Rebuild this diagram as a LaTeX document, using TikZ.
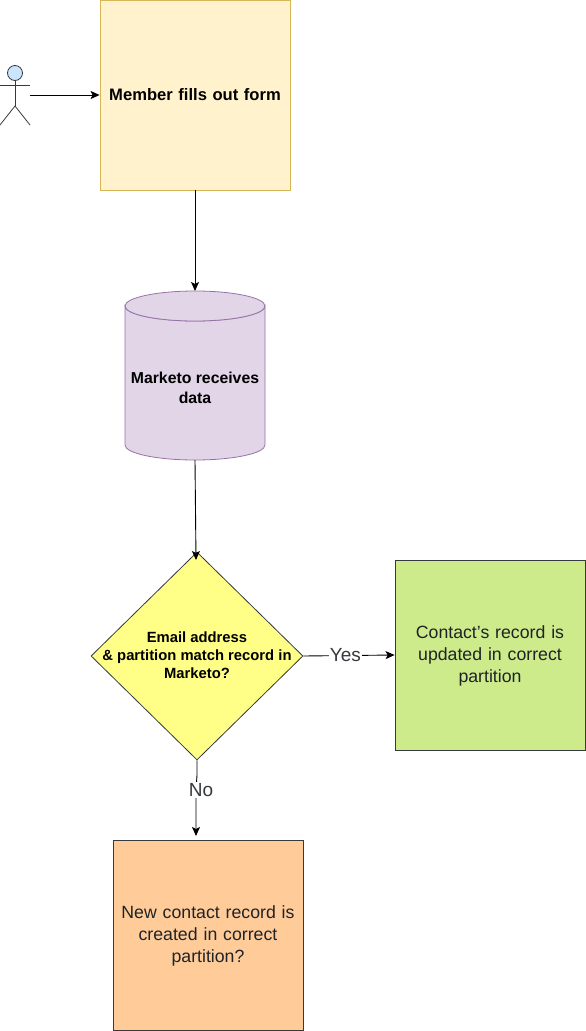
\documentclass[tikz,border=0pt]{standalone}
\usepackage{fontspec}
\setmainfont{Liberation Sans}
\usetikzlibrary{shapes.geometric,arrows.meta}
\definecolor{flowink}{HTML}{36393D}
\definecolor{bodytext}{HTML}{1F2226}
\definecolor{formfill}{HTML}{FFF2CC}
\definecolor{formline}{HTML}{D6B656}
\definecolor{cylfill}{HTML}{E1D5E7}
\definecolor{cylline}{HTML}{9673A6}
\definecolor{diafill}{HTML}{FFFF88}
\definecolor{greenfill}{HTML}{CDEB8B}
\definecolor{orangefill}{HTML}{FFCC99}
\definecolor{headfill}{HTML}{CCE5FF}
\tikzset{
  x=1pt,y=-1pt,
  box/.style={draw=flowink,rectangle,minimum width=190pt,minimum height=190pt,inner sep=0pt,align=center,text width=180pt,line width=.8pt,text=bodytext,font=\fontsize{17.7}{22}\selectfont},
  flow/.style={draw=black,line width=.9pt,-{Stealth[length=9pt,width=8pt,inset=2pt]}},
  edgelabel/.style={fill=white,inner sep=1pt,text=flowink,font=\fontsize{19}{20}\selectfont},
  actorline/.style={draw=flowink,line width=.8pt},
  boldtext/.style n args={2}{align=center,inner sep=0pt,text=black,font=\bfseries\fontsize{#1}{#2}\selectfont}
}
\begin{document}
\begin{tikzpicture}
\useasboundingbox (0,0) rectangle (586,1031);
% actor
\coordinate (hip) at (15,106);
\node[circle,draw=flowink,fill=headfill,line width=.8pt,minimum size=15pt,inner sep=0pt] (head) at (15,73) {};
\draw[actorline] (head.south) -- (hip);
\coordinate (armL) at (0,85); \coordinate (armR) at (30,85);
\coordinate (legL) at (0,125); \coordinate (legR) at (30,125);
\draw[actorline] (armL) -- (armR);
\draw[actorline] (legL) -- (hip) -- (legR);
\coordinate (actorout) at (30,95);
% nodes
\node[box,draw=formline,fill=formfill,font=\bfseries\fontsize{16.6}{20}\selectfont,text=black] (form) at (195,95) {Member fills out form};
% cylinder: outline drawn directly, text held by a named node
\draw[draw=cylline,fill=cylfill,line width=.8pt]
  (125,306) arc[start angle=180,end angle=360,x radius=70,y radius=-15]
  -- (265,445) arc[start angle=0,end angle=-180,x radius=70,y radius=-15] -- cycle;
\fill[cylfill] (195,306) ellipse[x radius=70,y radius=15];
\draw[draw=cylline,line width=.8pt] (195,306) ellipse[x radius=70,y radius=15];
\node[boldtext={15.8}{20}] (cyl) at (195,388) {Marketo receives\\data};
\coordinate (cyltop) at (195,291);
\coordinate (cylbot) at (195,460);
\node[diamond,draw=flowink,fill=diafill,line width=.8pt,minimum width=212pt,minimum height=208pt,inner sep=0pt] (dec) at (197,656) {};
\node[boldtext={14.8}{18}] (dectext) at (197,655.5) {Email address\\\& partition match record in\\Marketo?};
\node[box,fill=greenfill] (upd) at (490,655) {};
\node[box,fill=orangefill] (new) at (208,935) {};
\node[box,draw=none,fill=none,minimum height=0pt] (updtext) at (490,655.5) {Contact's record is\\updated in correct\\partition};
\node[box,draw=none,fill=none,minimum height=0pt] (newtext) at (208,935.5) {New contact record is\\created in correct\\partition?};
\coordinate (newtop) at (196,836);
\coordinate (dectop) at (196,560);
% connectors
\draw[flow] (actorout) -- (form.west);
\draw[flow] (form.south) -- (cyltop);
\draw[flow] (cylbot) -- (dectop);
\draw[flow] (dec.east) -- node[edgelabel,pos=.46] (yes) {Yes} (upd.west);
\draw[flow] (dec.south) -- (197,775) -- (196,790) -- (newtop);
\node[edgelabel] (no) at (201,790) {No};
\end{tikzpicture}
\end{document}
